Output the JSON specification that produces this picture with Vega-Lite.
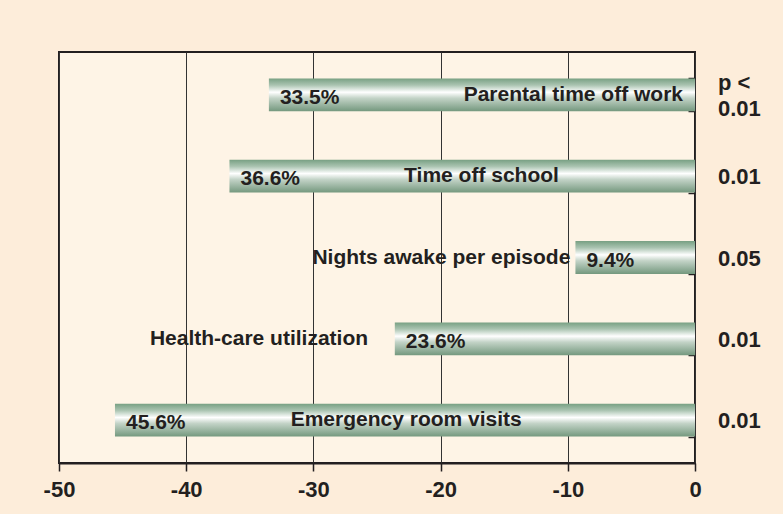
{
  "$schema": "https://vega.github.io/schema/vega-lite/v6.json",
  "autosize": {"type": "none"},
  "padding": {"left": 59, "top": 52, "right": 88, "bottom": 51},
  "width": 636,
  "height": 411,
  "background": "#FDEDDA",
  "config": {
    "view": {"fill": "#FEF4E6", "stroke": "#231F20", "strokeWidth": 2},
    "font": "Liberation Sans",
    "text": {"font": "Liberation Sans", "fontWeight": "bold", "fontSize": 21, "color": "#231F20"}
  },
  "data": {
    "values": [
      {"outcome": "Parental time off work", "change": -33.5, "pct": "33.5%", "labelAt": -0.94, "p": "p <\n0.01"},
      {"outcome": "Time off school", "change": -36.6, "pct": "36.6%", "labelAt": -10.7, "p": "0.01"},
      {"outcome": "Nights awake per episode", "change": -9.4, "pct": "9.4%", "labelAt": -9.8, "p": "0.05"},
      {"outcome": "Health-care utilization", "change": -23.6, "pct": "23.6%", "labelAt": -25.7, "p": "0.01"},
      {"outcome": "Emergency room visits", "change": -45.6, "pct": "45.6%", "labelAt": -13.62, "p": "0.01"}
    ]
  },
  "encoding": {
    "y": {
      "field": "outcome",
      "type": "nominal",
      "sort": null,
      "scale": {"paddingInner": 0.596, "paddingOuter": 0.325},
      "axis": {
        "orient": "right",
        "title": null,
        "labels": false,
        "tickBand": "extent",
        "tickSize": -7,
        "tickColor": "#231F20",
        "tickWidth": 1.5,
        "domain": false
      }
    }
  },
  "layer": [
    {
      "mark": {
        "type": "bar",
        "color": {
          "gradient": "linear",
          "x1": 0, "y1": 0, "x2": 0, "y2": 1,
          "stops": [
            {"offset": 0, "color": "#78a083"},
            {"offset": 0.2, "color": "#a9c3b0"},
            {"offset": 0.42, "color": "#ffffff"},
            {"offset": 0.6, "color": "#c3d3c7"},
            {"offset": 1, "color": "#74987e"}
          ]
        }
      },
      "encoding": {
        "x": {
          "field": "change",
          "type": "quantitative",
          "scale": {"domain": [-50, 0], "nice": false},
          "axis": {
            "title": null,
            "values": [-50, -40, -30, -20, -10, 0],
            "labelExpr": "'' + datum.value",
            "grid": true,
            "gridColor": "#333333",
            "gridWidth": 1,
            "domainColor": "#231F20",
            "domainWidth": 2,
            "tickColor": "#231F20",
            "tickWidth": 1.5,
            "tickSize": 8,
            "labelFont": "Liberation Sans",
            "labelFontWeight": "bold",
            "labelFontSize": 22,
            "labelColor": "#231F20",
            "labelPadding": 8,
            "labelFlush": false
          }
        }
      }
    },
    {
      "mark": {"type": "text", "align": "left", "baseline": "middle", "dx": 11, "dy": 3},
      "encoding": {
        "x": {"field": "change", "type": "quantitative"},
        "text": {"field": "pct"}
      }
    },
    {
      "mark": {"type": "text", "align": "right", "baseline": "middle", "dy": 0},
      "encoding": {
        "x": {"field": "labelAt", "type": "quantitative"},
        "text": {"field": "outcome"}
      }
    },
    {
      "transform": [{"filter": "indexof(datum.p, '\\n') < 0"}],
      "mark": {"type": "text", "align": "left", "baseline": "middle", "dx": 23, "dy": 1, "fontSize": 22},
      "encoding": {
        "x": {"datum": 0, "type": "quantitative"},
        "text": {"field": "p"}
      }
    },
    {
      "transform": [{"filter": "indexof(datum.p, '\\n') >= 0"}],
      "mark": {"type": "text", "align": "left", "baseline": "middle", "dx": 23, "dy": -12, "fontSize": 22, "lineBreak": "\n", "lineHeight": 26},
      "encoding": {
        "x": {"datum": 0, "type": "quantitative"},
        "text": {"field": "p"}
      }
    }
  ]
}
